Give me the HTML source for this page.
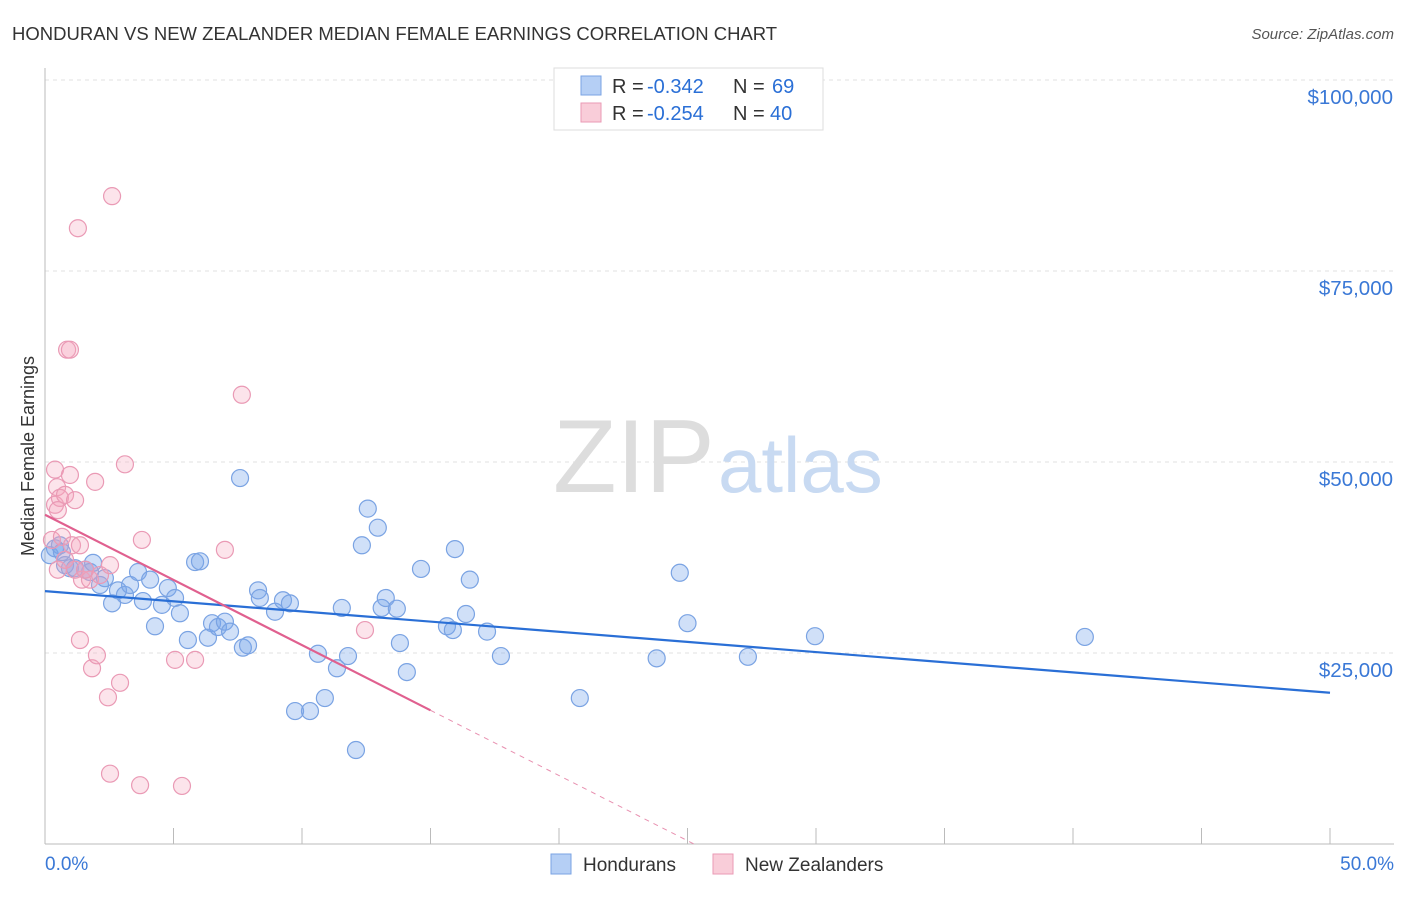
<!DOCTYPE html>
<html><head><meta charset="utf-8"><style>
body{margin:0;background:#fff;font-family:"Liberation Sans",sans-serif;}
svg text{font-family:"Liberation Sans",sans-serif;}
</style></head><body>
<svg width="1406" height="892" viewBox="0 0 1406 892" xmlns="http://www.w3.org/2000/svg">
<text x="12" y="40" font-size="18.5" fill="#333">HONDURAN VS NEW ZEALANDER MEDIAN FEMALE EARNINGS CORRELATION CHART</text>
<text x="1394" y="39" font-size="15" fill="#555" font-style="italic" text-anchor="end">Source: ZipAtlas.com</text>
<g id="grid"></g>
<g>
<text x="553" y="492" font-size="104" fill="#ddd" font-family="Liberation Serif">ZIP</text>
<text x="718" y="492" font-size="78" fill="#c8daf2">atlas</text>
</g>
<text transform="translate(34,456) rotate(-90)" font-size="18" fill="#333" text-anchor="middle">Median Female Earnings</text>
<g id="axes"></g>
<g id="pts"></g>
<g id="lines"></g>
<g>
<rect x="554" y="68" width="269" height="62" fill="#fff" stroke="#ddd"/>
<rect x="581" y="76" width="20" height="19" fill="#b5cff5" stroke="#7aa3e3"/>
<rect x="581" y="103" width="20" height="19" fill="#f9cdd9" stroke="#ea9ab5"/>
<text y="93" font-size="20" fill="#333"><tspan x="612">R =</tspan><tspan x="647" fill="#2a6fd6">-0.342</tspan><tspan x="733">N =</tspan><tspan x="772" fill="#2a6fd6">69</tspan></text>
<text y="120" font-size="20" fill="#333"><tspan x="612">R =</tspan><tspan x="647" fill="#2a6fd6">-0.254</tspan><tspan x="733">N =</tspan><tspan x="770" fill="#2a6fd6">40</tspan></text>
</g>
<g>
<rect x="551" y="854" width="20" height="20" fill="#b5cff5" stroke="#7aa3e3"/>
<text x="583" y="871" font-size="19" fill="#333">Hondurans</text>
<rect x="713" y="854" width="20" height="20" fill="#f9cdd9" stroke="#ea9ab5"/>
<text x="745" y="871" font-size="19" fill="#333">New Zealanders</text>
</g>
</svg>
<script>
const xTickLabels=["0.0%","50.0%"];
const yTicks=[25000,50000,75000,100000];
const yTickLabels=["$25,000","$50,000","$75,000","$100,000"];
const blueX=[0.19,0.39,0.58,0.66,0.78,0.97,1.17,1.56,1.75,1.87,2.14,2.33,2.61,2.84,3.11,3.31,3.62,3.81,4.09,4.28,4.55,4.78,5.06,5.25,5.56,5.84,6.03,6.34,6.5,6.73,7.0,7.2,7.59,7.7,7.9,8.29,8.36,8.95,9.26,9.53,9.73,10.31,10.62,10.89,11.36,11.55,11.79,12.1,12.33,12.56,12.95,13.1,13.26,13.69,13.81,14.08,14.63,15.64,15.87,15.95,16.38,16.53,17.2,17.74,20.81,23.8,24.7,25.0,27.35,29.96,40.46];
const blueY=[37.8,38.7,39.1,38.2,36.5,36.1,36.1,35.9,35.6,36.8,33.9,34.8,31.5,33.2,32.6,33.9,35.6,31.8,34.6,28.5,31.3,33.5,32.2,30.2,26.7,36.9,37.0,27.0,28.9,28.4,29.1,27.8,47.9,25.7,26.0,33.2,32.2,30.4,31.9,31.5,17.4,17.4,24.9,19.1,23.0,30.9,24.6,12.3,39.1,43.9,41.4,30.9,32.2,30.8,26.3,22.5,36.0,28.5,28.0,38.6,30.1,34.6,27.8,24.6,19.1,24.3,35.5,28.9,24.5,27.2,27.1];
const pinkX=[0.27,0.39,0.39,0.47,0.58,0.66,0.78,0.86,0.97,0.97,1.05,1.17,1.17,1.28,1.36,1.44,1.36,1.83,1.95,2.02,2.45,2.53,2.61,2.92,3.11,3.7,3.77,5.06,5.33,5.84,7.0,7.66,12.45,1.75,0.5,0.78,1.56,2.14,2.53,0.5];
const pinkY=[39.8,44.4,49.0,46.7,45.3,40.2,45.7,64.7,64.7,48.3,39.1,45.0,35.9,80.6,39.1,34.6,26.7,23.0,47.4,24.7,19.2,9.2,84.8,21.1,49.7,7.7,39.8,24.1,7.6,24.1,38.5,58.8,28.0,34.6,35.9,37.2,35.9,35.2,36.5,43.7];
const blueTrend=[33.1,19.8];   // $k at 0% and 50%
const pinkTrend=[43.1,17.5,15]; // $k at 0%, at solid end, solid end x%
const NS="http://www.w3.org/2000/svg";
const X=v=>45+v/50*1285, Y=v=>844-v/25*191;
function mk(t,a,p){const e=document.createElementNS(NS,t);for(const k in a)e.setAttribute(k,a[k]);p.appendChild(e);return e;}
const grid=document.getElementById('grid'),axes=document.getElementById('axes'),pts=document.getElementById('pts'),lines=document.getElementById('lines');
yTicks.forEach((t,i)=>{
 const l=mk('line',{x1:45,x2:1394,y1:Y(t/1000),y2:Y(t/1000),stroke:'#e2e2e2','stroke-dasharray':'4,4'},grid);
 
 
 const tx=mk('text',{x:1393,y:Y(t/1000)+24,'font-size':20.5,fill:'#3a78d6','text-anchor':'end'},axes);
 tx.textContent=yTickLabels[i];
 
 
});
const tg=mk('line',{x1:45,x2:1394,y1:80,y2:80,stroke:'#e2e2e2','stroke-dasharray':'4,4'},grid);


const ya=mk('line',{x1:45,x2:45,y1:68,y2:844,stroke:'#bbb'},axes);


const xa=mk('line',{x1:45,x2:1394,y1:844,y2:844,stroke:'#bbb'},axes);


for(let i=0;i<=10;i++){const k=mk('line',{x1:X(i*5),x2:X(i*5),y1:828,y2:844,stroke:'#bbb'},axes);
 
 }
[[0,'start',45],[50,'end',1394]].forEach((d,i)=>{const t=mk('text',{x:d[2],y:870,'font-size':19,fill:'#3a78d6','text-anchor':d[1]},axes);t.textContent=xTickLabels[i];
 
 });
blueX.forEach((x,i)=>{const c=mk('circle',{cx:X(x),cy:Y(blueY[i]),r:8.5,fill:'rgba(120,165,235,0.35)',stroke:'#7aa3e3','stroke-width':1.2},pts);
 
 });
pinkX.forEach((x,i)=>{const c=mk('circle',{cx:X(x),cy:Y(pinkY[i]),r:8.5,fill:'rgba(245,165,190,0.3)',stroke:'#ea9ab5','stroke-width':1.2},pts);
 
 });
const bl=mk('line',{x1:X(0),y1:Y(blueTrend[0]),x2:X(50),y2:Y(blueTrend[1]),stroke:'#2a6fd6','stroke-width':2.2},lines);


const slope=(pinkTrend[1]-pinkTrend[0])/pinkTrend[2];
const pl=mk('line',{x1:X(0),y1:Y(pinkTrend[0]),x2:X(pinkTrend[2]),y2:Y(pinkTrend[1]),stroke:'#e0608f','stroke-width':2.2},lines);


const xe=-pinkTrend[0]/slope;
const pd=mk('line',{x1:X(pinkTrend[2]),y1:Y(pinkTrend[1]),x2:X(xe),y2:Y(0),stroke:'#e890b0','stroke-width':1,'stroke-dasharray':'5,5'},lines);


</script>
</body></html>
